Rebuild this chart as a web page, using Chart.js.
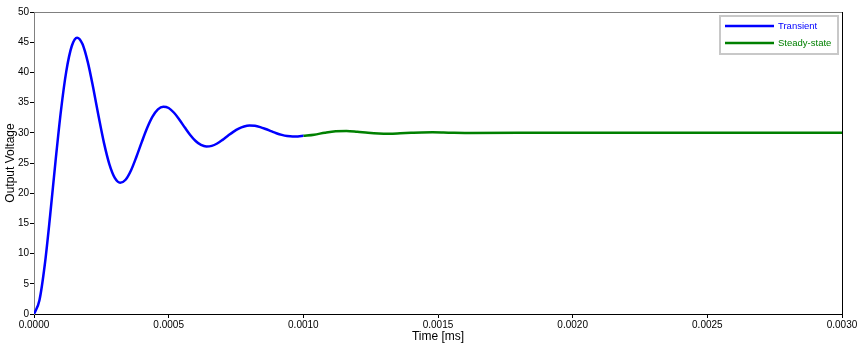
<!DOCTYPE html>
<html>
<head>
<meta charset="utf-8">
<script src="https://cdn.jsdelivr.net/npm/chart.js@4.4.1/dist/chart.umd.min.js"></script>
<style>
  html, body { margin: 0; padding: 0; background: #fff; }
  #wrap { width: 859px; height: 348px; }
</style>
</head>
<body>
<div id="wrap"><canvas id="js--chart"></canvas></div>
<script>
const tTransient = [
  0, 0.00002, 0.00004, 0.00006, 0.00008, 0.0001, 0.00012, 0.00014, 0.00016, 0.00018,
  0.0002, 0.00022, 0.00024, 0.00026, 0.00028, 0.0003, 0.00032, 0.00034, 0.00036, 0.00038,
  0.0004, 0.00042, 0.00044, 0.00046, 0.00048, 0.0005, 0.00052, 0.00054, 0.00056, 0.00058,
  0.0006, 0.00062, 0.00064, 0.00066, 0.00068, 0.0007, 0.00072, 0.00074, 0.00076, 0.00078,
  0.0008, 0.00082, 0.00084, 0.00086, 0.00088, 0.0009, 0.00092, 0.00094, 0.00096, 0.00098,
  0.001
];
const vTransient = [
  0, 2.23, 8.15, 16.35, 25.32, 33.64, 40.21, 44.33, 45.75, 44.70,
  41.66, 37.40, 32.69, 28.29, 24.78, 22.54, 21.74, 22.23, 23.77, 26.00,
  28.46, 30.79, 32.67, 33.88, 34.33, 34.11, 33.32, 32.17, 30.87, 29.64,
  28.64, 27.99, 27.72, 27.83, 28.23, 28.83, 29.51, 30.16, 30.69, 31.04,
  31.19, 31.15, 30.94, 30.63, 30.28, 29.93, 29.65, 29.46, 29.38, 29.39,
  29.50
];

const tSteady = [
  0.001, 0.00104, 0.00108, 0.00112, 0.00116, 0.0012, 0.00124, 0.00128, 0.00132, 0.00136,
  0.0014, 0.00144, 0.00148, 0.00152, 0.00156, 0.0016, 0.002, 0.0025, 0.003
];
const vSteady = [
  29.50, 29.69, 30.02, 30.26, 30.30, 30.17, 29.99, 29.87, 29.84, 29.91,
  30.00, 30.07, 30.08, 30.05, 30.00, 29.98, 30, 30, 30
];

const xTicks = [0, 0.0005, 0.001, 0.0015, 0.002, 0.0025, 0.003];
const yTicks = [0, 5, 10, 15, 20, 25, 30, 35, 40, 45, 50];

const seriesNames = ["Transient", "Steady-state"];
const seriesColors = ["#0000ff", "#008000"];

function toPoints(xs, ys){
    return xs.map((x, i) => ({x: x, y: ys[i]}));
}

const data = {
    datasets: [
        {
            label: seriesNames[0],
            data: toPoints(tTransient, vTransient),
            borderColor: seriesColors[0],
            borderWidth: 2.5,
            pointRadius: 0,
            cubicInterpolationMode: "monotone"
        },
        {
            label: seriesNames[1],
            data: toPoints(tSteady, vSteady),
            borderColor: seriesColors[1],
            borderWidth: 2.5,
            pointRadius: 0,
            cubicInterpolationMode: "monotone"
        }
    ]
};

// rand boven (grijs) en rechts (zwart), plus de legenda met kader
const frame = {
    id: "frame",
    afterDatasetsDraw(chart){
        const ctx = chart.ctx;
        const a = chart.chartArea;
        ctx.save();
        ctx.lineWidth = 1;
        ctx.strokeStyle = "#808080";
        ctx.beginPath();
        ctx.moveTo(a.left, a.top + 0.5);
        ctx.lineTo(a.right, a.top + 0.5);
        ctx.stroke();
        ctx.strokeStyle = "#000";
        ctx.beginPath();
        ctx.moveTo(a.right + 0.5, a.top);
        ctx.lineTo(a.right + 0.5, a.bottom);
        ctx.stroke();

        // legenda
        const bx = 720, by = 16, bw = 118, bh = 38;
        ctx.fillStyle = "#fff";
        ctx.fillRect(bx, by, bw, bh);
        ctx.strokeStyle = "#c8c8c8";
        ctx.lineWidth = 2;
        ctx.strokeRect(bx, by, bw, bh);
        ctx.font = "9.5px 'Liberation Sans', Arial, sans-serif";
        ctx.textBaseline = "middle";
        chart.data.datasets.forEach((ds, i) => {
            const y = by + 10 + i * 17;
            ctx.strokeStyle = ds.borderColor;
            ctx.lineWidth = 2.5;
            ctx.beginPath();
            ctx.moveTo(bx + 5, y);
            ctx.lineTo(bx + 54, y);
            ctx.stroke();
            ctx.fillStyle = ds.borderColor;
            ctx.fillText(ds.label, bx + 58, y);
        });
        ctx.restore();
    }
};

const config = {
    type: "line",
    data: data,
    plugins: [frame],
    options: {
        responsive: true,
        maintainAspectRatio: false,
        animation: false,
        layout: { padding: { top: 12, right: 17, left: 0, bottom: 0 } },
        plugins: {
            legend: { display: false },
            tooltip: { enabled: false }
        },
        scales: {
            x: {
                type: "linear",
                min: 0,
                max: 0.003,
                afterBuildTicks: (s) => { s.ticks = xTicks.map(v => ({value: v})); },
                afterFit: (s) => { s.height = 34; },
                ticks: {
                    maxRotation: 0,
                    autoSkip: false,
                    color: "#000",
                    padding: 1,
                    font: { family: "'Liberation Sans', Arial, sans-serif", size: 10 },
                    callback: (v) => v.toFixed(4)
                },
                grid: { drawOnChartArea: false, drawTicks: true, tickLength: 4, color: "#000" },
                border: { color: "#000", width: 1 },
                title: {
                    display: true,
                    text: "Time [ms]",
                    color: "#000",
                    padding: { top: 0, bottom: 4 },
                    font: { family: "'Liberation Sans', Arial, sans-serif", size: 12 }
                }
            },
            y: {
                min: 0,
                max: 50,
                afterBuildTicks: (s) => { s.ticks = yTicks.map(v => ({value: v})); },
                afterFit: (s) => { s.width = 34; },
                ticks: {
                    color: "#000",
                    padding: 1,
                    font: { family: "'Liberation Sans', Arial, sans-serif", size: 10 }
                },
                grid: { drawOnChartArea: false, drawTicks: true, tickLength: 4, color: "#000" },
                border: { color: "#808080", width: 1 },
                title: {
                    display: true,
                    text: "Output Voltage",
                    color: "#000",
                    padding: { top: 3, bottom: 0 },
                    font: { family: "'Liberation Sans', Arial, sans-serif", size: 12 }
                }
            }
        }
    }
};

new Chart(document.getElementById("js--chart"), config);
</script>
</body>
</html>
